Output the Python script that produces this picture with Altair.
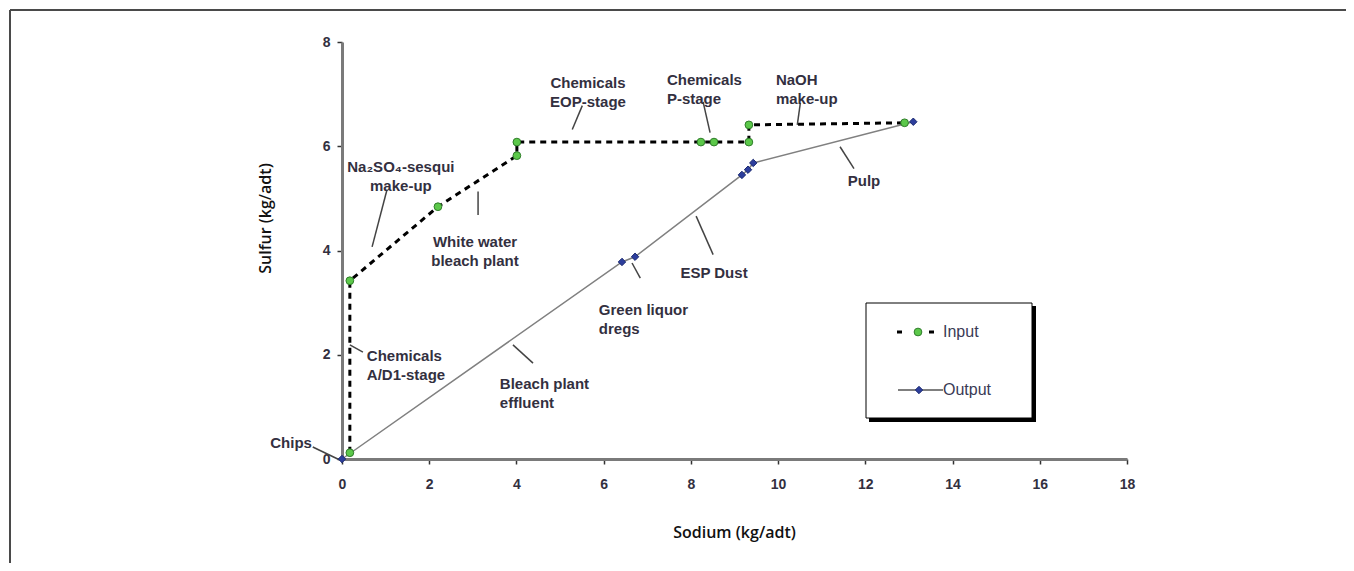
import altair as alt
import pandas as pd

# ---------------- data ----------------
input_sodium = [0.18, 0.18, 2.20, 4.01, 4.01, 8.23, 8.53, 9.33, 9.33, 12.90]
input_sulfur = [0.12, 3.42, 4.84, 5.82, 6.08, 6.08, 6.08, 6.08, 6.41, 6.45]

output_sodium = [0.00, 6.42, 6.72, 9.17, 9.31, 9.43, 13.10]
output_sulfur = [0.00, 3.78, 3.88, 5.45, 5.55, 5.68, 6.47]

x_ticks = [0, 2, 4, 6, 8, 10, 12, 14, 16, 18]
y_ticks = [0, 2, 4, 6, 8]

# annotation labels (anchor in data units)
ann_labels = ["Na\u2082SO\u2084-sesqui\nmake-up", "White water\nbleach plant",
              "Chemicals\nEOP-stage", "Chemicals\nP-stage", "NaOH\nmake-up",
              "Pulp", "ESP Dust", "Green liquor\ndregs", "Bleach plant\neffluent",
              "Chemicals\nA/D1-stage", "Chips"]
ann_x = [1.35, 3.05, 5.64, 7.45, 9.95, 11.97, 8.53, 5.89, 3.62, 0.57, -0.69]
ann_y = [5.61, 4.16, 7.21, 7.28, 7.28, 5.34, 3.57, 2.86, 1.43, 1.98, 0.31]
ann_align = ["center", "center", "center", "left", "left", "center", "center",
             "left", "left", "left", "right"]

# leader lines (data units)
lead_x1 = [1.03, 3.12, 5.51, 8.28, 10.51, 11.42, 8.12, 6.65, 3.92, 0.18, -0.67]
lead_y1 = [5.16, 5.13, 6.78, 6.85, 6.83, 5.99, 4.66, 3.76, 2.19, 2.19, 0.23]
lead_x2 = [0.69, 3.12, 5.28, 8.44, 10.44, 11.74, 8.51, 6.84, 4.38, 0.48, -0.05]
lead_y2 = [4.07, 4.68, 6.32, 6.26, 6.41, 5.57, 3.92, 3.47, 1.84, 2.05, -0.02]

series_names = ["Input", "Output"]

# ---------------- tables ----------------
inp = pd.DataFrame({"sodium": input_sodium, "sulfur": input_sulfur,
                    "idx": list(range(len(input_sodium)))})
out = pd.DataFrame({"sodium": output_sodium, "sulfur": output_sulfur,
                    "idx": list(range(len(output_sodium)))})
ann = pd.DataFrame({"sodium": ann_x, "sulfur": ann_y, "label": ann_labels,
                    "align": ann_align})
lead = pd.DataFrame({"sodium": lead_x1, "sulfur": lead_y1,
                     "sodium2": lead_x2, "sulfur2": lead_y2})
one = pd.DataFrame({"a": [0]})

TICK_FONT = "Liberation Sans"
TEXT_COL = "#33303f"

x_axis = alt.Axis(values=x_ticks, title="Sodium (kg/adt)", grid=False,
                  domainColor="#7a7a7a", domainWidth=3, tickColor="#333333",
                  tickWidth=1.5, tickSize=5, labelFont=TICK_FONT,
                  labelFontWeight="bold", labelFontSize=14, labelColor=TEXT_COL,
                  labelPadding=13, labelFlush=False,
                  titleFont="Open Sans", titleFontWeight=600, titleFontSize=16,
                  titleColor="#111111", titleX=392, titleY=73,
                  titleBaseline="middle", titleAlign="center")
y_axis = alt.Axis(values=y_ticks, title="Sulfur (kg/adt)", grid=False,
                  domainColor="#7a7a7a", domainWidth=3, tickColor="#333333",
                  tickWidth=1.5, tickSize=5, labelFont=TICK_FONT,
                  labelFontWeight="bold", labelFontSize=14, labelColor=TEXT_COL,
                  labelPadding=7, labelFlush=False,
                  titleFont="Open Sans", titleFontWeight=600, titleFontSize=16,
                  titleColor="#111111", titleX=-77, titleY=176, titleAngle=270,
                  titleBaseline="middle", titleAlign="center")

X = alt.X("sodium:Q", scale=alt.Scale(domain=[0, 18], nice=False), axis=x_axis)
Y = alt.Y("sulfur:Q", scale=alt.Scale(domain=[0, 8], nice=False), axis=y_axis)

out_line = alt.Chart(out).mark_line(color="#808080", strokeWidth=1.5).encode(
    x=X, y=Y, order="idx:Q")
in_line = alt.Chart(inp).mark_line(color="#000000", strokeWidth=3,
                                   strokeDash=[6, 5]).encode(x=X, y=Y, order="idx:Q")

leaders = alt.Chart(lead).mark_rule(color="#444444", strokeWidth=1.5).encode(
    x=X, y=Y, x2="sodium2:Q", y2="sulfur2:Q")

out_pts = alt.Chart(out).mark_point(shape="diamond", filled=True, size=55,
                                    fill="#2d3e9c", stroke="#1b2a72",
                                    strokeWidth=1, opacity=1).encode(x=X, y=Y)
in_pts = alt.Chart(inp).mark_point(shape="circle", filled=True, size=60,
                                   fill="#5cc84a", stroke="#2f7d2a",
                                   strokeWidth=1, opacity=1).encode(x=X, y=Y)

text_layers = []
for al in ["left", "center", "right"]:
    text_layers.append(
        alt.Chart(ann[ann["align"] == al]).mark_text(
            align=al, baseline="middle", font=TICK_FONT, fontWeight="bold",
            fontSize=15, color=TEXT_COL, lineBreak="\n", lineHeight=19
        ).encode(x=X, y=Y, text="label:N"))

# ---------------- legend box ----------------
legend_shadow = alt.Chart(one).mark_rect(fill="#000000").encode(
    x=alt.value(527), x2=alt.value(694), y=alt.value(264), y2=alt.value(380))
legend_box = alt.Chart(one).mark_rect(fill="white", stroke="#000000",
                                      strokeWidth=1).encode(
    x=alt.value(524), x2=alt.value(690), y=alt.value(261), y2=alt.value(376))
leg_in_line = alt.Chart(one).mark_rule(color="#000000", strokeWidth=3,
                                       strokeDash=[5, 27]).encode(
    x=alt.value(555), x2=alt.value(592), y=alt.value(290))
leg_out_line = alt.Chart(one).mark_rule(color="#555555", strokeWidth=1.5).encode(
    x=alt.value(556), x2=alt.value(601), y=alt.value(348))
leg_in_pt = alt.Chart(one).mark_point(shape="circle", filled=True, size=60,
                                      fill="#5cc84a", stroke="#2f7d2a",
                                      strokeWidth=1, opacity=1).encode(
    x=alt.value(576), y=alt.value(290))
leg_out_pt = alt.Chart(one).mark_point(shape="diamond", filled=True, size=55,
                                       fill="#2d3e9c", stroke="#1b2a72",
                                       strokeWidth=1, opacity=1).encode(
    x=alt.value(577), y=alt.value(348))
leg_in_txt = alt.Chart(one).mark_text(align="left", baseline="middle",
                                      font=TICK_FONT, fontSize=16,
                                      color="#3a3a55", text=series_names[0]).encode(
    x=alt.value(601), y=alt.value(290))
leg_out_txt = alt.Chart(one).mark_text(align="left", baseline="middle",
                                       font=TICK_FONT, fontSize=16,
                                       color="#3a3a55", text=series_names[1]).encode(
    x=alt.value(601), y=alt.value(348))

# ---------------- outer frame ----------------
frame_top = alt.Chart(one).mark_rule(color="#4a4a4a", strokeWidth=2).encode(
    x=alt.value(-332), x2=alt.value(1010), y=alt.value(-32))
frame_left = alt.Chart(one).mark_rule(color="#4a4a4a", strokeWidth=2).encode(
    x=alt.value(-332), y=alt.value(-32), y2=alt.value(530))

chart = alt.layer(
    frame_top, frame_left,
    out_line, in_line, leaders, out_pts, in_pts, *text_layers,
    legend_shadow, legend_box, leg_in_line, leg_out_line,
    leg_in_pt, leg_out_pt, leg_in_txt, leg_out_txt,
).properties(
    width=785, height=417,
    padding={"left": 334, "top": 34, "right": 219, "bottom": 104},
    autosize=alt.AutoSizeParams(type="none"),
).configure_view(stroke=None)

chart.save("out.html", embed_options={"renderer": "svg", "actions": False})
